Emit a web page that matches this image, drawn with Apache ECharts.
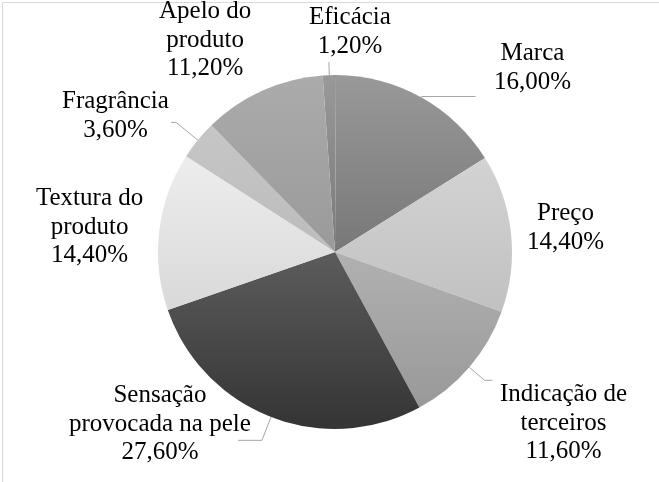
<!DOCTYPE html>
<html>
<head>
<meta charset="utf-8">
<script src="https://cdn.jsdelivr.net/npm/echarts@6/dist/echarts.min.js"></script>
<style>
html,body{margin:0;padding:0;background:#fff;}
#c{width:659px;height:482px;}
</style>
</head>
<body>
<div id="c"></div>
<script>
// ---- data ----
const categories = ['Eficácia', 'Marca', 'Preço', 'Indicação de\nterceiros', 'Sensação\nprovocada na pele', 'Textura do\nproduto', 'Fragrância', 'Apelo do\nproduto'];
const values = [1.2, 16.0, 14.4, 11.6, 27.6, 14.4, 3.6, 11.2];

// ---- styles ----
const sliceTop    = ['#999999', '#999999', '#d3d3d3', '#b1b1b1', '#5c5c5c', '#ededed', '#c6c6c6', '#ababab'];
const sliceBottom = ['#787878', '#787878', '#c1c1c1', '#999999', '#343434', '#d9d9d9', '#bcbcbc', '#9a9a9a'];
const showLine    = [true, true, false, true, true, false, true, false];
const lineLen     = [13, 1, 0, 20, 25, 0, 28, 55];
const lineLen2    = [0, 54, 0, 8, 24, 0, 5, 0];
const edgeDist    = [309, 88, 55, 32, 69, 36, 62, 159];
const labelPad    = [[0,0,60,0], [0,0,57,0], [0,0,10,0], [86,0,0,0], [0,0,32,0], [0,0,8,0], [0,0,13,0], [0,0,0,0]];

const FONT = 'Liberation Serif';

const chart = echarts.init(document.getElementById('c'));
const data = categories.map((n, i) => ({
  name: n,
  value: values[i],
  itemStyle: {
    color: new echarts.graphic.LinearGradient(0, 0, 0, 1, [
      {offset: 0, color: sliceTop[i]},
      {offset: 1, color: sliceBottom[i]}
    ])
  },
  label: {edgeDistance: edgeDist[i], padding: labelPad[i]},
  labelLine: {show: showLine[i], length: lineLen[i], length2: lineLen2[i]}
}));

chart.setOption({
  backgroundColor: '#ffffff',
  animation: false,
  textStyle: {fontFamily: FONT},
  graphic: [{
    type: 'rect', left: 0, top: 0, silent: true,
    shape: {x: 0, y: 0, width: 658, height: 481},
    style: {fill: 'none', stroke: '#d9d9d9', lineWidth: 1}
  }],
  series: [{
    type: 'pie',
    center: [335, 252],
    radius: 177,
    startAngle: 94,
    clockwise: true,
    avoidLabelOverlap: false,
    data: data,
    itemStyle: {borderWidth: 0},
    label: {
      show: true,
      position: 'outside',
      alignTo: 'edge',
      overflow: 'none',
      fontFamily: FONT,
      fontSize: 25,
      lineHeight: 28.5,
      color: '#000',
      formatter: p => {
        const lines = p.name.split('\n').concat([p.value.toFixed(2).replace('.', ',') + '%']);
        return lines.map(l => '{c|' + l + '}').join('\n');
      },
      rich: {
        c: {align: 'center', fontFamily: FONT, fontSize: 25, lineHeight: 28.5, color: '#000'}
      }
    },
    labelLine: {
      show: true,
      minTurnAngle: 0,
      lineStyle: {color: '#a6a6a6', width: 1}
    }
  }]
});
</script>
</body>
</html>
